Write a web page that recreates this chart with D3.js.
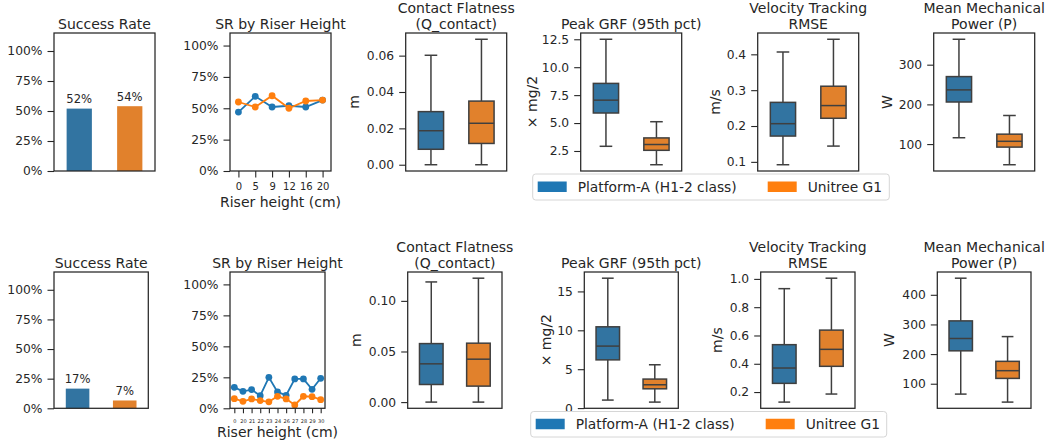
<!DOCTYPE html>
<html>
<head>
<meta charset="utf-8">
<script src="https://cdnjs.cloudflare.com/ajax/libs/d3/7.8.5/d3.min.js"></script>
<style>
  body { margin: 0; background: #fff; }
  text { font-family: "DejaVu Sans", sans-serif; fill: #262626; }
</style>
</head>
<body>
<svg id="chart" width="1048" height="446"></svg>
<script>
// ---- data ----
const platforms = ["Platform-A (H1-2 class)", "Unitree G1"];

const successTop = [0.52, 0.54];
const successBottom = [0.166, 0.066];

const risersTop = ["0", "5", "9", "12", "16", "20"];
const srTopA = [0.47, 0.595, 0.51, 0.52, 0.51, 0.565];
const srTopB = [0.55, 0.51, 0.60, 0.50, 0.558, 0.565];

const risersBottom = ["0", "20", "21", "22", "23", "24", "26", "27", "28", "29", "30"];
const srBottomA = [0.169, 0.137, 0.151, 0.102, 0.25, 0.132, 0.105, 0.237, 0.237, 0.153, 0.242];
const srBottomB = [0.078, 0.056, 0.076, 0.062, 0.052, 0.097, 0.076, 0.027, 0.097, 0.094, 0.070];

// box stats: [low whisker, q1, median, q3, high whisker]
const flatTopA = [0.0, 0.0085, 0.0187, 0.0292, 0.0602];
const flatTopB = [0.0, 0.0117, 0.0228, 0.035, 0.069];
const grfTopA = [2.92, 5.9, 7.05, 8.55, 12.5];
const grfTopB = [1.27, 2.56, 3.08, 3.67, 5.12];
const velTopA = [0.092, 0.172, 0.2065, 0.266, 0.4065];
const velTopB = [0.144, 0.2216, 0.257, 0.311, 0.442];
const powTopA = [116, 206, 236.5, 270, 364];
const powTopB = [48, 92.4, 107, 125, 172];

const flatBotA = [0.0, 0.0174, 0.0378, 0.0578, 0.1187];
const flatBotB = [0.0, 0.0158, 0.0424, 0.0582, 0.1224];
const grfBotA = [1.03, 6.2, 7.97, 10.45, 16.7];
const grfBotB = [0.77, 2.48, 3.0, 3.73, 5.57];
const velBotA = [0.129, 0.2615, 0.37, 0.535, 0.931];
const velBotB = [0.186, 0.382, 0.502, 0.638, 1.005];
const powBotA = [65, 211, 252.6, 312, 456];
const powBotB = [38, 118, 144, 175.5, 259];

// tick labels
const pctTicks = [0, 0.25, 0.5, 0.75, 1];
const flatTopTicks = [0, 0.02, 0.04, 0.06];
const grfTopTicks = [2.5, 5, 7.5, 10, 12.5];
const velTopTicks = [0.1, 0.2, 0.3, 0.4];
const powTopTicks = [100, 200, 300];
const flatBotTicks = [0, 0.05, 0.10];
const grfBotTicks = [0, 5, 10, 15];
const velBotTicks = [0.2, 0.4, 0.6, 0.8, 1.0];
const powBotTicks = [100, 200, 300, 400];

// ---- styles ----
const boxColors = ["#3274a1", "#e1812c"];
const lineColors = ["#1f77b4", "#ff7f0e"];
const ink = "#262626";
const boxLine = "#3f3f3f";

const svg = d3.select("#chart");

function panel(x0, x1, y0, y1) {
    let g = svg.append("g").attr("transform", `translate(${x0},${y0})`);
    g.w = x1 - x0;
    g.h = y1 - y0;
    return g;
}

function frame(g) {
    g.append("rect")
        .attr("width", g.w).attr("height", g.h)
        .attr("fill", "none").attr("stroke", ink).attr("stroke-width", 1.25);
}

function styleAxis(a, size) {
    a.select(".domain").remove();
    a.selectAll("line").attr("stroke", ink).attr("stroke-width", 1.1);
    a.selectAll("text").attr("fill", ink).style("font-size", size + "px")
        .style("font-family", "DejaVu Sans, sans-serif");
}

function yAxis(g, y, ticks, fmt) {
    let a = g.append("g")
        .call(d3.axisLeft(y).tickValues(ticks).tickFormat(fmt).tickSize(6.5).tickPadding(5));
    styleAxis(a, 12.3);
}

function title(g, lines) {
    let t = g.append("text").attr("text-anchor", "middle").style("font-size", "14px");
    let n = lines.length;
    lines.forEach(function(l, i) {
        t.append("tspan").attr("x", g.w / 2).attr("y", -4 - (n - 1 - i) * 16.5).text(l);
    });
}

function yLabel(g, x, label) {
    g.append("text")
        .attr("transform", `translate(${x},${g.h / 2}) rotate(-90)`)
        .attr("text-anchor", "middle")
        .attr("dominant-baseline", "central")
        .style("font-size", "14px")
        .text(label);
}

function barPanel(g, values) {
    let x = d3.scaleBand().domain(platforms).range([0, g.w]).paddingInner(0.5).paddingOuter(0.25);
    let y = d3.scaleLinear().domain([0, 1.15]).range([g.h, 0]);

    g.selectAll("rect.bar")
        .data(values)
        .enter()
        .append("rect")
        .attr("class", "bar")
        .attr("x", function(d, i) { return x(platforms[i]); })
        .attr("y", function(d) { return y(d); })
        .attr("width", x.bandwidth())
        .attr("height", function(d) { return g.h - y(d); })
        .attr("fill", function(d, i) { return boxColors[i]; });

    g.selectAll("text.val")
        .data(values)
        .enter()
        .append("text")
        .attr("class", "val")
        .attr("text-anchor", "middle")
        .attr("x", function(d, i) { return x(platforms[i]) + x.bandwidth() / 2; })
        .attr("y", function(d) { return y(d) - 5.5; })
        .style("font-size", "11.6px")
        .text(d3.format(".0%"));

    yAxis(g, y, pctTicks, d3.format(".0%"));
    frame(g);
    title(g, ["Success Rate"]);
}

function linePanel(g, risers, seriesA, seriesB, small) {
    let x = d3.scalePoint().domain(risers).range([0, g.w]).padding(0.5);
    let y = d3.scaleLinear().domain([0, 1.1]).range([g.h, 0]);
    let line = d3.line()
        .x(function(d, i) { return x(risers[i]); })
        .y(function(d) { return y(d); });

    [seriesA, seriesB].forEach(function(s, k) {
        g.append("path").datum(s)
            .attr("d", line)
            .attr("fill", "none")
            .attr("stroke", lineColors[k])
            .attr("stroke-width", 1.8);
        g.selectAll("circle.s" + k)
            .data(s)
            .enter()
            .append("circle")
            .attr("class", "s" + k)
            .attr("cx", function(d, i) { return x(risers[i]); })
            .attr("cy", function(d) { return y(d); })
            .attr("r", 3.4)
            .attr("fill", lineColors[k]);
    });

    let ax = g.append("g").attr("transform", `translate(0,${g.h})`)
        .call(d3.axisBottom(x).tickSize(small ? 5 : 6.5).tickPadding(small ? 6 : 5.5));
    styleAxis(ax, small ? 5 : 10);

    yAxis(g, y, pctTicks, d3.format(".0%"));
    frame(g);
    title(g, ["SR by Riser Height"]);

    g.append("text")
        .attr("x", g.w / 2)
        .attr("y", g.h + (small ? 29 : 36))
        .attr("text-anchor", "middle")
        .style("font-size", "14px")
        .text("Riser height (cm)");
}

function boxPanel(g, statsA, statsB, ticks, fmt, lines, label, labelX) {
    let all = statsA.concat(statsB);
    let lo = d3.min(all), hi = d3.max(all), pad = (hi - lo) * 0.05;
    let x = d3.scaleBand().domain(platforms).range([0, g.w]).paddingInner(0.5).paddingOuter(0.25);
    let y = d3.scaleLinear().domain([lo - pad, hi + pad]).range([g.h, 0]);
    let bw = x.bandwidth();

    [statsA, statsB].forEach(function(s, i) {
        let cx = x(platforms[i]) + bw / 2;
        let b = g.append("g").attr("stroke", boxLine).attr("stroke-width", 1.5);
        b.append("line").attr("x1", cx).attr("x2", cx).attr("y1", y(s[0])).attr("y2", y(s[1]));
        b.append("line").attr("x1", cx).attr("x2", cx).attr("y1", y(s[3])).attr("y2", y(s[4]));
        b.append("line").attr("x1", cx - bw / 4).attr("x2", cx + bw / 4).attr("y1", y(s[0])).attr("y2", y(s[0]));
        b.append("line").attr("x1", cx - bw / 4).attr("x2", cx + bw / 4).attr("y1", y(s[4])).attr("y2", y(s[4]));
        b.append("rect")
            .attr("x", x(platforms[i]))
            .attr("y", y(s[3]))
            .attr("width", bw)
            .attr("height", y(s[1]) - y(s[3]))
            .attr("fill", boxColors[i]);
        b.append("line").attr("x1", x(platforms[i])).attr("x2", x(platforms[i]) + bw)
            .attr("y1", y(s[2])).attr("y2", y(s[2]));
    });

    yAxis(g, y, ticks, fmt);
    frame(g);
    title(g, lines);
    yLabel(g, labelX, label);
}

function legend(x, y, w, h) {
    let g = svg.append("g").attr("transform", `translate(${x},${y})`);
    g.append("rect")
        .attr("width", w).attr("height", h).attr("rx", 3)
        .attr("fill", "#fff").attr("stroke", "#d6d6d6").attr("stroke-width", 1);
    let offsets = [5, 235];
    platforms.forEach(function(p, i) {
        g.append("rect")
            .attr("x", offsets[i]).attr("y", h / 2 - 5.5)
            .attr("width", 29).attr("height", 10.5)
            .attr("fill", lineColors[i]);
        g.append("text")
            .attr("x", offsets[i] + 40)
            .attr("y", h / 2 + 5)
            .style("font-size", "13.8px")
            .text(p);
    });
}

// ---- layout ----
const rows = [
    { y0: 33, y1: 171, xs: [[54, 155], [230, 331], [405.7, 506.7], [580.7, 681.7], [757.7, 858.7], [933.7, 1034.7]] },
    { y0: 272, y1: 408.3, xs: [[54, 148.3], [230, 325], [407.7, 502], [584.3, 678.3], [760.7, 855], [937.3, 1031]] }
];

function makePanels(r) {
    return r.xs.map(function(p) { return panel(p[0], p[1], r.y0, r.y1); });
}

let topRow = makePanels(rows[0]);
barPanel(topRow[0], successTop);
linePanel(topRow[1], risersTop, srTopA, srTopB, false);
boxPanel(topRow[2], flatTopA, flatTopB, flatTopTicks, d3.format(".2f"), ["Contact Flatness", "(Q_contact)"], "m", 354 - 405.7);
boxPanel(topRow[3], grfTopA, grfTopB, grfTopTicks, d3.format(".1f"), ["Peak GRF (95th pct)"], "× mg/2", 531.5 - 580.7);
boxPanel(topRow[4], velTopA, velTopB, velTopTicks, d3.format(".1f"), ["Velocity Tracking", "RMSE"], "m/s", 715 - 757.7);
boxPanel(topRow[5], powTopA, powTopB, powTopTicks, d3.format("d"), ["Mean Mechanical", "Power (P)"], "W", 886.7 - 933.7);
legend(532.7, 174, 356.6, 26);

let botRow = makePanels(rows[1]);
barPanel(botRow[0], successBottom);
linePanel(botRow[1], risersBottom, srBottomA, srBottomB, true);
boxPanel(botRow[2], flatBotA, flatBotB, flatBotTicks, d3.format(".2f"), ["Contact Flatness", "(Q_contact)"], "m", 356 - 407.7);
boxPanel(botRow[3], grfBotA, grfBotB, grfBotTicks, d3.format("d"), ["Peak GRF (95th pct)"], "× mg/2", 546 - 584.3);
boxPanel(botRow[4], velBotA, velBotB, velBotTicks, d3.format(".1f"), ["Velocity Tracking", "RMSE"], "m/s", 716.7 - 760.7);
boxPanel(botRow[5], powBotA, powBotB, powBotTicks, d3.format("d"), ["Mean Mechanical", "Power (P)"], "W", 889 - 937.3);
legend(530.7, 411.5, 356, 25.5);
</script>
</body>
</html>
